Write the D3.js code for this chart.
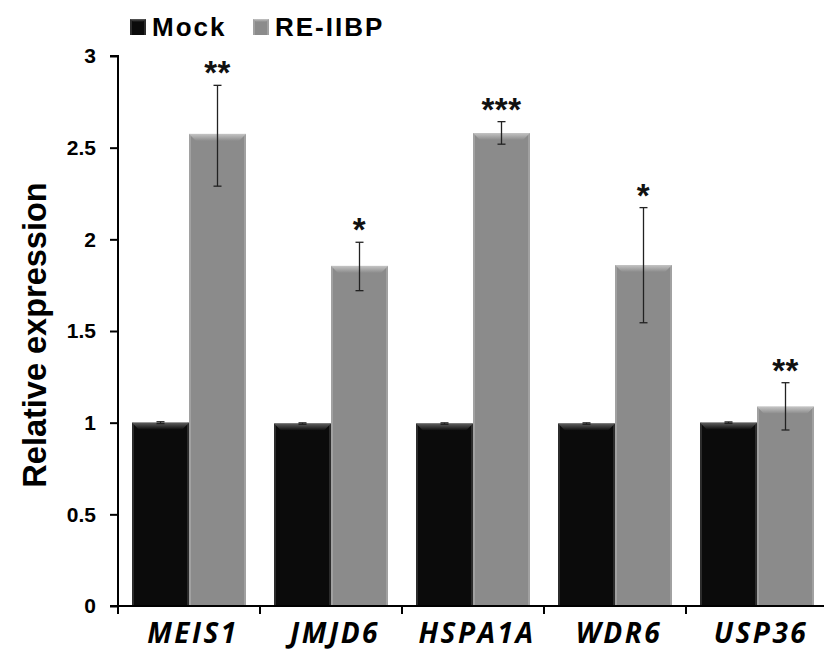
<!DOCTYPE html>
<html><head><meta charset="utf-8">
<script src="https://cdn.jsdelivr.net/npm/d3@7"></script>
<style>body{margin:0;background:#fff}svg{display:block}</style>
</head><body>
<svg id="c" width="824" height="651"></svg>
<script>
const categories = ["MEIS1","JMJD6","HSPA1A","WDR6","USP36"];
const seriesNames = ["Mock","RE-IIBP"];
const mockValues = [1.0, 0.995, 0.995, 0.995, 1.0];
const mockErr = [0.005, 0.004, 0.004, 0.004, 0.004];
const reValues = [2.575, 1.855, 2.58, 1.86, 1.087];
const reErrUp = [2.84, 1.984, 2.642, 2.173, 1.218];
const reErrDown = [2.29, 1.72, 2.519, 1.545, 0.96];
const stars = ["**","*","***","*","**"];
const yTicks = [0,0.5,1,1.5,2,2.5,3];
const yTickLabels = ["0","0.5","1","1.5","2","2.5","3"];

(function(){
const svg = d3.select("#c");
const mL = 118, mR = 828, mT = 56, mB = 606;
const x = d3.scaleBand().domain(categories).range([mL,mR]).padding(0);
const xs = d3.scaleBand().domain(seriesNames).range([14,128]).padding(0);
const y = d3.scaleLinear().domain([0,3]).range([mB,mT]);
const colors = {"Mock":"#0b0b0b","RE-IIBP":"#8b8b8b"};
const light = {"Mock":"#5e5e5e","RE-IIBP":"#c4c4c4"};

const defs = svg.append("defs");
seriesNames.forEach((s,i)=>{
  const g = defs.append("linearGradient").attr("id","bev"+i).attr("x1",0).attr("y1",0).attr("x2",0).attr("y2",1);
  g.append("stop").attr("offset","0%").attr("stop-color",light[s]);
  g.append("stop").attr("offset","100%").attr("stop-color",colors[s]);
});

const data = [];
categories.forEach((c,i)=>{
  data.push({cat:c,s:"Mock",si:0,v:mockValues[i],hi:mockValues[i]+mockErr[i],lo:mockValues[i]-mockErr[i]});
  data.push({cat:c,s:"RE-IIBP",si:1,v:reValues[i],hi:reErrUp[i],lo:reErrDown[i]});
});

function drawBevelBar(g, x0, w, y0, y1, s, si, b){
  g.append("rect").attr("x",x0).attr("y",y0).attr("width",w).attr("height",y1-y0).attr("fill",colors[s]);
  g.append("rect").attr("x",x0).attr("y",y0).attr("width",2).attr("height",y1-y0).attr("fill",light[s]).attr("opacity",0.4);
  g.append("rect").attr("x",x0+w-2).attr("y",y0).attr("width",2).attr("height",y1-y0).attr("fill",light[s]).attr("opacity",0.4);
  g.append("path").attr("d",`M${x0},${y0}L${x0+w},${y0}L${x0+w-b},${y0+b}L${x0+b},${y0+b}Z`).attr("fill",`url(#bev${si})`);
}

const bars = svg.append("g");
data.forEach(d=>{
  const x0 = x(d.cat)+xs(d.s);
  drawBevelBar(bars, x0, xs.bandwidth(), y(d.v), y(0), d.s, d.si, 7);
});

const eb = svg.append("g").attr("stroke","#222").attr("stroke-width",1.3);
data.forEach(d=>{
  const cx = x(d.cat)+xs(d.s)+xs.bandwidth()/2;
  eb.append("line").attr("x1",cx).attr("x2",cx).attr("y1",y(d.hi)).attr("y2",y(d.lo));
  eb.append("line").attr("x1",cx-4).attr("x2",cx+4).attr("y1",y(d.hi)).attr("y2",y(d.hi));
  eb.append("line").attr("x1",cx-4).attr("x2",cx+4).attr("y1",y(d.lo)).attr("y2",y(d.lo));
});

categories.forEach((c,i)=>{
  const cx = x(c)+xs("RE-IIBP")+xs.bandwidth()/2;
  svg.append("text").attr("x",cx).attr("y",y(reErrUp[i])-1).attr("text-anchor","middle")
    .attr("font-family","Liberation Sans, Arial, sans-serif").attr("font-weight","bold").attr("font-size",33)
    .attr("letter-spacing",0.5).attr("fill","#111").text(stars[i]);
});

const yAxis = d3.axisLeft(y).tickValues(yTicks).tickFormat((d,i)=>yTickLabels[i]).tickSize(8).tickPadding(14);
const ga = svg.append("g").attr("transform",`translate(${mL},0)`).call(yAxis);
ga.select(".domain").attr("d",`M-8,${mT}H0V${mB+8}`).attr("stroke","#000").attr("stroke-width",2).attr("fill","none");
ga.selectAll(".tick line").attr("stroke","#000").attr("stroke-width",2);
ga.selectAll(".tick text").attr("font-family","Liberation Sans, Arial, sans-serif").attr("font-weight","bold").attr("font-size",21).attr("fill","#000");

const xAxis = d3.axisBottom(x).tickSize(0).tickFormat("");
const gx = svg.append("g").attr("transform",`translate(0,${mB})`).call(xAxis);
gx.select(".domain").attr("d",`M${mL-8},0H${mR}`).attr("stroke","#000").attr("stroke-width",2);
categories.forEach((c,i)=>{
  if(i>0) gx.append("line").attr("x1",x(c)).attr("x2",x(c)).attr("y1",0).attr("y2",8).attr("stroke","#000").attr("stroke-width",2);
});
categories.forEach(c=>{
  gx.append("text").attr("x",x(c)+x.bandwidth()/2+4).attr("y",37).attr("text-anchor","middle")
    .attr("font-family","Open Sans, sans-serif").attr("font-weight","bold").attr("font-style","italic")
    .attr("font-size",28).attr("letter-spacing",2.5).attr("fill","#000").text(c);
});

svg.append("text").attr("transform","translate(46,335) rotate(-90)").attr("text-anchor","middle")
  .attr("font-family","Liberation Sans, Arial, sans-serif").attr("font-weight","bold").attr("font-size",32.5)
  .attr("fill","#000").text("Relative expression");

const lg = svg.append("g");
const legX = [130,253];
seriesNames.forEach((s,i)=>{
  drawBevelBar(lg, legX[i], 16, 19, 35, s, i, 3);
  lg.append("text").attr("x",legX[i]+22).attr("y",36).attr("font-family","Liberation Sans, Arial, sans-serif")
    .attr("font-weight","bold").attr("font-size",26).attr("letter-spacing",2).attr("fill","#000").text(s);
});
})();
</script>
</body></html>
